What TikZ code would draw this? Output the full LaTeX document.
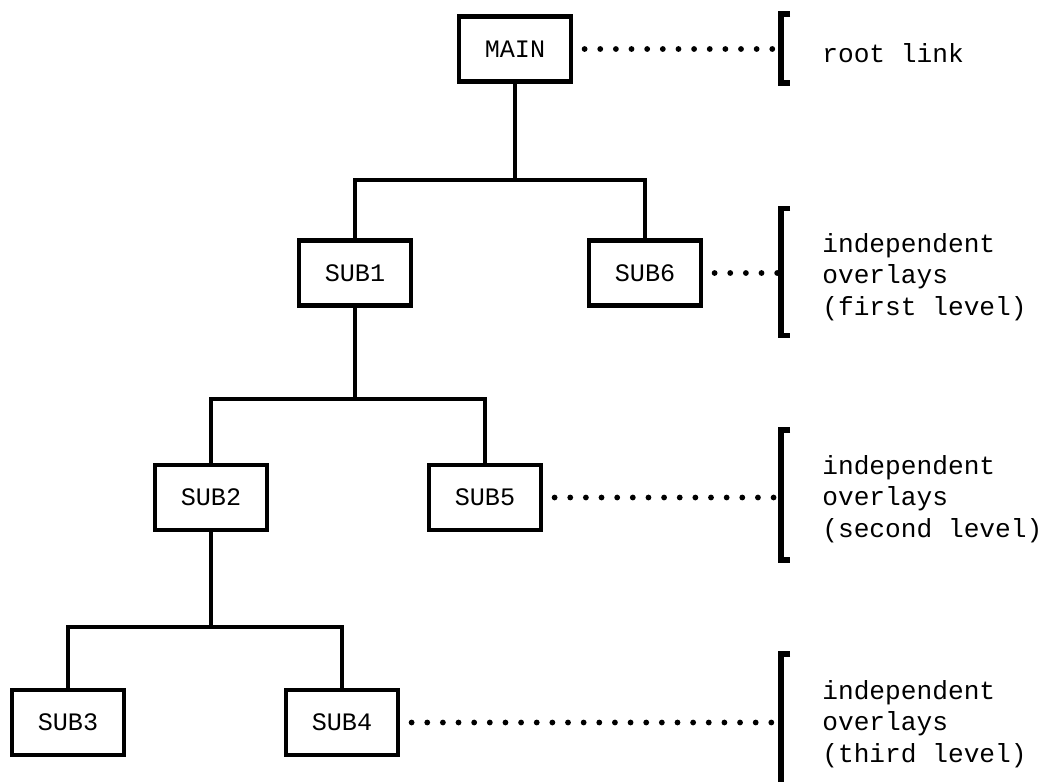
\documentclass[tikz,border=0pt]{standalone}
\usepackage{fontspec}
\newfontfamily\typew{Liberation Mono}

\begin{document}
\begin{tikzpicture}[
    ovl/.style={draw, line width=2.4pt, minimum width=2.24cm, minimum height=1.3cm,
	inner sep=0pt, font=\typew\fontsize{14.3}{17}\selectfont},
    tie/.style={line width=2.4pt},
    dots/.style={line width=3.3pt, line cap=round, dash pattern=on 0pt off 8.9pt,
	shorten <=0.23cm},
    brkt/.style={line width=3.4pt},
    note/.style={anchor=west, align=left, inner sep=0pt,
	font=\typew\fontsize{14.9}{17.9}\selectfont}]
    \useasboundingbox (0, 0) rectangle (20.92, -15.64);
    % overlays
    \node[ovl] (MAIN) at (10.30, -0.98) {MAIN};
    \node[ovl] (SUB1) at (7.10, -5.46) {SUB1};
    \node[ovl] (SUB6) at (12.90, -5.46) {SUB6};
    \node[ovl] (SUB2) at (4.22, -9.95) {SUB2};
    \node[ovl] (SUB5) at (9.70, -9.95) {SUB5};
    \node[ovl] (SUB3) at (1.36, -14.45) {SUB3};
    \node[ovl] (SUB4) at (6.84, -14.45) {SUB4};
    % links between levels
    \coordinate (bar1) at (0, -3.6);
    \coordinate (bar2) at (0, -7.98);
    \coordinate (bar3) at (0, -12.54);
    \draw[tie] (MAIN.south) -- (MAIN.south |- bar1);
    \draw[tie] (SUB1.north) |- (SUB6.north |- bar1) -- (SUB6.north);
    \draw[tie] (SUB1.south) -- (SUB1.south |- bar2);
    \draw[tie] (SUB2.north) |- (SUB5.north |- bar2) -- (SUB5.north);
    \draw[tie] (SUB2.south) -- (SUB2.south |- bar3);
    \draw[tie] (SUB3.north) |- (SUB4.north |- bar3) -- (SUB4.north);
    % brackets
    \foreach \n/\y/\h in {1/-0.97/0.69, 2/-5.44/1.27, 3/-9.9/1.3, 4/-14.4/1.32} {
	\coordinate (b\n) at (15.62, \y);
	\draw[brkt] (15.8, \y+\h) -- (15.62, \y+\h) -- (15.62, \y-\h) -- (15.8, \y-\h);
    }
    \draw[dots] (MAIN.east) -- (MAIN.east -| b1);
    \draw[dots] (SUB6.east) -- (SUB6.east -| b2);
    \draw[dots] (SUB5.east) -- (SUB5.east -| b3);
    \draw[dots] (SUB4.east) -- (SUB4.east -| b4);
    \node[note] (root) at (16.44, -1.07) {root link};
    \node[note] (lev1) at (16.44, -5.54) {independent\\overlays\\(first level)};
    \node[note] (lev2) at (16.44, -9.98) {independent\\overlays\\(second level)};
    \node[note] (lev3) at (16.44, -14.48) {independent\\overlays\\(third level)};
\end{tikzpicture}
\end{document}
